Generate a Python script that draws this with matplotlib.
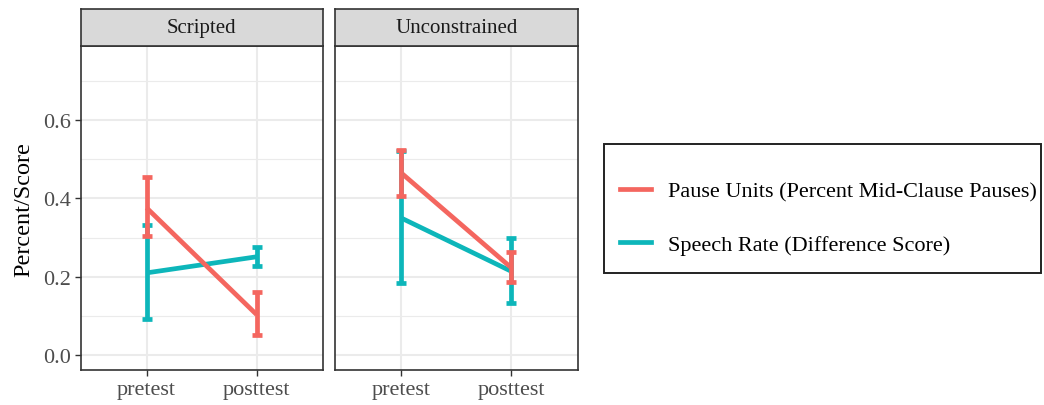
import matplotlib
matplotlib.use("Agg")
import matplotlib.pyplot as plt
from matplotlib.patches import Rectangle
from matplotlib.lines import Line2D

plt.rcParams['font.family'] = ['Liberation Serif', 'DejaVu Serif']

# ---- data ----
panels = ["Scripted", "Unconstrained"]
times = ["pretest", "posttest"]
series = ["Pause Units (Percent Mid-Clause Pauses)", "Speech Rate (Difference Score)"]
colors = ["#F4665F", "#0DB6BA"]

# means, lower, upper per panel per series [pretest, posttest]
pause_mean = {"Scripted": [0.376, 0.104], "Unconstrained": [0.465, 0.223]}
pause_lo = {"Scripted": [0.304, 0.051], "Unconstrained": [0.405, 0.187]}
pause_hi = {"Scripted": [0.454, 0.161], "Unconstrained": [0.524, 0.263]}
speech_mean = {"Scripted": [0.210, 0.251], "Unconstrained": [0.350, 0.214]}
speech_lo = {"Scripted": [0.092, 0.227], "Unconstrained": [0.185, 0.134]}
speech_hi = {"Scripted": [0.331, 0.277], "Unconstrained": [0.520, 0.299]}

yticks = [0.0, 0.2, 0.4, 0.6]
yticklabels = ["0.0", "0.2", "0.4", "0.6"]
yminor = [0.1, 0.3, 0.5, 0.7]

W, H = 1044, 406
fig = plt.figure(figsize=(W / 100, H / 100), dpi=100)

def fx(px):
    return px / W

def fy(py):
    return 1 - py / H

panel_px = [(80.5, 322.5), (335.0, 577.5)]
top_px, bot_px = 47.3, 371.0
strip_top = 9.5

border_col = "#333333"
tick_col = "#4D4D4D"
LW = 3.4
for i, (name, (l, r)) in enumerate(zip(panels, panel_px)):
    ax = fig.add_axes([fx(l), fy(bot_px), fx(r - l), fy(top_px) - fy(bot_px)])
    ax.set_xlim(0.4, 2.6)
    ax.set_ylim(-0.0375, 0.7875)
    for y in yminor:
        ax.axhline(y, color="#EBEBEB", lw=0.8, zorder=0)
    for y in yticks:
        ax.axhline(y, color="#EBEBEB", lw=1.5, zorder=0)
    for x in [1, 2]:
        ax.axvline(x, color="#EBEBEB", lw=1.5, zorder=0)
    xs = [1, 2]
    data = [
        (speech_mean[name], speech_lo[name], speech_hi[name], colors[1]),
        (pause_mean[name], pause_lo[name], pause_hi[name], colors[0]),
    ]
    for m, lo, hi, c in data:
        ax.plot(xs, m, color=c, lw=LW, solid_capstyle="butt", zorder=2)
        yerr = [[mm - a for mm, a in zip(m, lo)], [b - mm for mm, b in zip(m, hi)]]
        ax.errorbar(xs, m, yerr=yerr, fmt="none", ecolor=c, elinewidth=LW,
                    capsize=3.6, capthick=LW, zorder=3)
    ax.set_xticks(xs)
    ax.set_xticklabels(times, fontsize=16, color=tick_col)
    ax.set_yticks(yticks)
    if i == 0:
        ax.set_yticklabels(yticklabels, fontsize=16, color=tick_col)
        ax.set_ylabel("Percent/Score", fontsize=17.5, color="black", labelpad=6)
    else:
        ax.tick_params(axis="y", left=False, labelleft=False)
    ax.tick_params(axis="both", length=4, width=1.0, color="#333333", pad=3)
    for sp in ax.spines.values():
        sp.set_color(border_col)
        sp.set_linewidth(1.2)
    # strip
    sax = fig.add_axes([fx(l), fy(top_px), fx(r - l), fy(strip_top) - fy(top_px)])
    sax.set_facecolor("#D9D9D9")
    sax.set_xticks([])
    sax.set_yticks([])
    for sp in sax.spines.values():
        sp.set_color(border_col)
        sp.set_linewidth(1.2)
    sax.text(0.5, 0.5, name, ha="center", va="center", fontsize=15,
             color="#1A1A1A", transform=sax.transAxes)

# legend box
box = Rectangle((fx(603.5), fy(273.5)), fx(1041 - 603.5), fy(144.5) - fy(273.5),
                transform=fig.transFigure, fill=False, edgecolor="#222222", lw=1.4)
fig.patches.append(box)
leg_handles = [Line2D([0], [0], color=colors[0], lw=LW),
               Line2D([0], [0], color=colors[1], lw=LW)]
fig.legend(leg_handles, series, loc="center left",
           bbox_to_anchor=(fx(620), fy(219)), frameon=False, fontsize=16,
           handlelength=1.4, handletextpad=0.75, labelspacing=1.45,
           borderpad=0, borderaxespad=0)

fig.savefig("out.png", dpi=100)
